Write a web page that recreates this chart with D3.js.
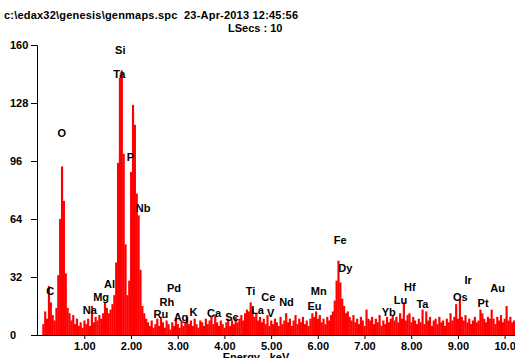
<!DOCTYPE html>
<html>
<head>
<meta charset="utf-8">
<script src="https://cdn.jsdelivr.net/npm/d3@7"></script>
<style>
  body { margin: 0; background: #fff; }
  text { font-family: Arial, "Liberation Sans", sans-serif; font-weight: bold; }
</style>
</head>
<body>
<div id="chart"></div>
<script>
// spectrum: counts per 0.04 keV channel starting at 0.10 keV
const startKeV = 0.10;
const binKeV = 0.04;
const counts = [
  6, 13, 9, 27, 18, 11, 8, 15, 33, 64,
  93, 74, 34, 15, 12, 8, 11, 6, 9, 5,
  7, 4, 8, 6, 9, 5, 16, 7, 10, 8,
  11, 9, 12, 18, 15, 12, 14, 17, 22, 40,
  95, 142, 146, 100, 50, 22, 30, 90, 127, 116,
  78, 66, 36, 16, 12, 9, 7, 5, 8, 4,
  6, 9, 5, 10, 7, 4, 8, 6, 3, 7,
  5, 9, 6, 4, 8, 5, 7, 10, 6, 8,
  5, 9, 6, 4, 8, 7, 5, 9, 6, 8,
  10, 6, 11, 7, 5, 8, 6, 4, 7, 9,
  5, 8, 6, 10, 7, 9, 11, 8, 12, 14,
  13, 18, 15, 10, 12, 8, 10, 7, 9, 6,
  11, 5, 8, 6, 9, 7, 5, 10, 6, 8,
  12, 7, 9, 5, 8, 11, 6, 9, 7, 10,
  6, 8, 5, 9, 12, 10, 13, 9, 11, 7,
  9, 6, 10, 8, 11, 13, 19, 30, 41, 29,
  20, 16, 12, 13, 10, 8, 11, 7, 9, 6,
  10, 8, 5, 14, 9, 8, 10, 6, 9, 7,
  11, 5, 8, 6, 10, 7, 9, 11, 8, 10,
  7, 12, 9, 18, 8, 11, 12, 7, 10, 8,
  6, 9, 7, 14, 6, 13, 8, 10, 5, 8,
  9, 6, 10, 7, 8, 5, 9, 7, 12, 8,
  10, 17, 9, 20, 10, 8, 11, 7, 9, 6,
  8, 10, 7, 8, 14, 12, 9, 7, 10, 9,
  14, 9, 6, 10, 8, 11, 7, 9, 16, 8,
  10, 7, 8, 6
];

// element labels: name, energy (keV) and label level (counts)
const peakNames = ["Si", "Ta", "O", "P", "Nb", "C", "Al", "Mg", "Na", "Pd", "Rh", "Ru", "Ag", "K", "Ca", "Sc",
  "Ti", "La", "Ce", "V", "Nd", "Mn", "Eu", "Fe", "Dy", "Yb", "Lu", "Hf", "Ta", "Os", "Ir", "Pt", "Au"];
const peakKeV = [1.77, 1.75, 0.52, 1.99, 2.26, 0.27, 1.54, 1.36, 1.12, 2.92, 2.77, 2.64, 3.07, 3.34, 3.78, 4.16,
  4.56, 4.71, 4.94, 4.99, 5.33, 6.02, 5.93, 6.48, 6.59, 7.52, 7.77, 7.97, 8.24, 9.05, 9.22, 9.54, 9.85];
const peakLevel = [155, 142, 109, 96, 68, 22, 26, 18.5, 11.5, 24, 16, 9.5, 7.5, 10.5, 10, 7.5,
  22, 11.5, 18.5, 10, 16, 22, 14, 50, 35, 10.5, 17, 24.5, 15, 19, 28, 15.5, 24];

const yTicks = [0, 32, 64, 96, 128, 160];
const xTicks = [1, 2, 3, 4, 5, 6, 7, 8, 9, 10];

const headerLine = "c:\\edax32\\genesis\\genmaps.spc  23-Apr-2013 12:45:56";
const liveLine = "LSecs : 10";

let width = 515;
let height = 358;

let x = d3.scaleLinear().domain([0, 10.24]).range([37.6, 515.8]);
let y = d3.scaleLinear().domain([0, 160]).range([335, 45]);

let svg = d3.select("#chart")
  .append("svg")
  .attr("width", width)
  .attr("height", height);

svg.append("text")
  .attr("x", 4)
  .attr("y", 19)
  .attr("font-size", 11)
  .attr("textLength", 294)
  .attr("lengthAdjust", "spacing")
  .style("white-space", "pre")
  .text(headerLine);

svg.append("text")
  .attr("x", 228)
  .attr("y", 32)
  .attr("font-size", 11)
  .text(liveLine);

// spectrum bars
svg.append("g")
  .selectAll("rect")
  .data(counts)
  .enter()
  .append("rect")
  .attr("x", function (d, i) { return x(startKeV + i * binKeV); })
  .attr("width", function (d, i) {
    return x(startKeV + (i + 1) * binKeV) - x(startKeV + i * binKeV) + 0.3;
  })
  .attr("y", function (d) { return y(d); })
  .attr("height", function (d) { return y(0) - y(d); })
  .attr("fill", "#ff0000");

// axes
let yAxis = svg.append("g")
  .attr("transform", "translate(37,0)")
  .call(d3.axisLeft(y).tickValues(yTicks).tickSize(6).tickFormat(d3.format("d")));

yAxis.selectAll("text")
  .attr("x", -27)
  .attr("text-anchor", "start")
  .attr("font-size", 11)
  .attr("font-family", "Arial, 'Liberation Sans', sans-serif")
  .attr("fill", "#000");

let xAxis = svg.append("g")
  .attr("transform", "translate(0,335)")
  .call(d3.axisBottom(x).tickValues(xTicks).tickSize(4).tickSizeOuter(0).tickFormat(d3.format(".3r")));

xAxis.select(".domain").attr("d", "M37,0.5H515");
xAxis.selectAll("text")
  .attr("font-size", 11)
  .attr("font-family", "Arial, 'Liberation Sans', sans-serif")
  .attr("fill", "#000");

svg.selectAll(".domain, .tick line").attr("stroke", "#000");

svg.append("text")
  .attr("x", 256)
  .attr("y", 361)
  .attr("font-size", 11)
  .attr("text-anchor", "middle")
  .text("Energy - keV");

// element labels
svg.append("g")
  .selectAll("text")
  .data(peakNames)
  .enter()
  .append("text")
  .attr("x", function (d, i) { return x(peakKeV[i]); })
  .attr("y", function (d, i) { return y(peakLevel[i]); })
  .attr("font-size", 11)
  .attr("text-anchor", "middle")
  .attr("fill", "#000")
  .text(function (d) { return d; });
</script>
</body>
</html>
